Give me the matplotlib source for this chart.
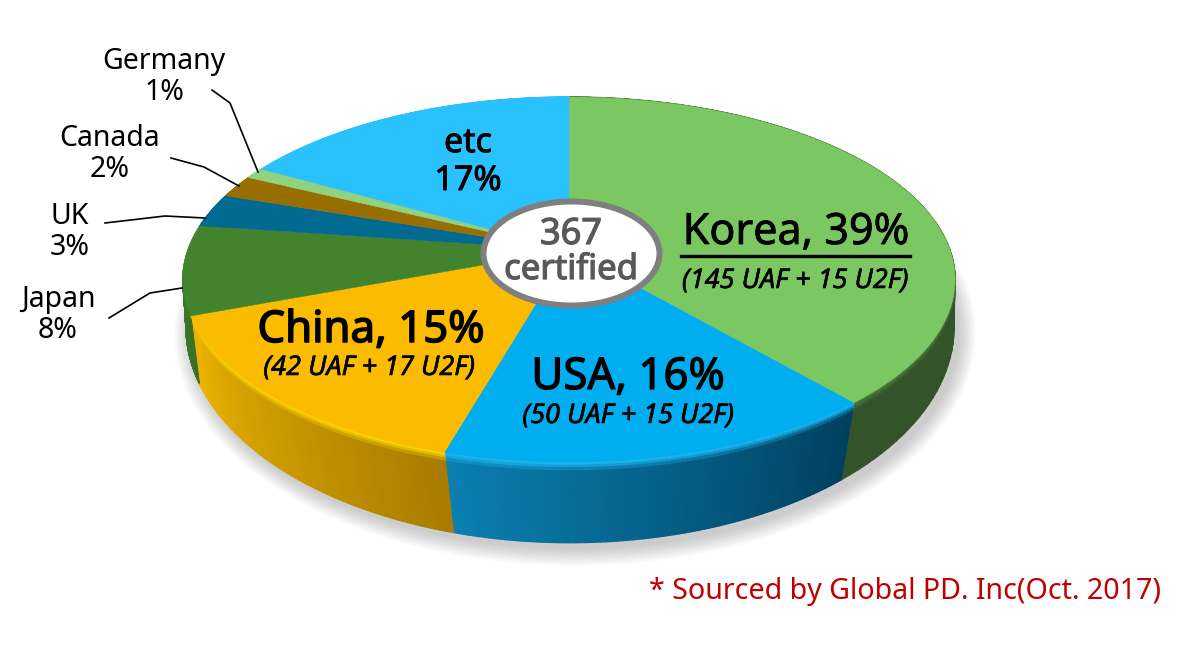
import numpy as np
import matplotlib
matplotlib.use('Agg')
import matplotlib.pyplot as plt
import matplotlib.patheffects as pe
from matplotlib.collections import PolyCollection
from matplotlib.colors import to_rgb
from matplotlib.patches import Ellipse, Polygon

countries = ['Korea', 'USA', 'China', 'Japan', 'UK', 'Canada', 'Germany', 'etc']
shares = [39, 16, 15, 8, 3, 2, 1, 17]
top_colors = ['#7BC862', '#00AEEF', '#FBBC00', '#43832D', '#006A90', '#996E00', '#90D27E', '#29C2FF']
# side colour at the start and end of each slice (start = clockwise first)
side_start = ['#33532A', '#00405F', '#A87C00', '#3A7028', '#006A90', '#996E00', '#90D27E', '#29C2FF']
side_end = ['#33532A', '#0A7FB0', '#EDB400', '#3F7A2A', '#006A90', '#996E00', '#90D27E', '#29C2FF']
rim_colors = ['#4C7A3C', '#1CB8F5', '#FFD800', '#50A035', '#006A90', '#996E00', '#90D27E', '#29C2FF']

big_labels = [('Korea, 39%', 796, 233, 31, 0.55), ('USA, 16%', 628, 378, 31.5, 0.9), ('China, 15%', 371, 331, 31.5, 1.1)]
sub_labels = [('(145 UAF + 15 U2F)', 795, 281), ('(50 UAF + 15 U2F)', 628, 416), ('(42 UAF + 17 U2F)', 369, 368)]
small_labels = [('Germany\n1%', 164, 77), ('Canada\n2%', 110, 154), ('UK\n3%', 70, 232), ('Japan\n8%', 58, 315)]
leaders = [[(212, 90), (230, 103), (258, 172)],
           [(171, 158), (204, 167), (239, 186)],
           [(105, 223), (165, 216), (205, 218)],
           [(109, 318), (150, 293), (182, 288)]]

plt.rcParams['font.family'] = ['Noto Sans', 'DejaVu Sans']


# perspective projection of the pie disc, angle clockwise from the back
def project(theta, cx, cy, a, b, k):
    u = np.sin(theta)
    v = np.cos(theta)
    w = 1 + k * v
    return cx + a * u / w, cy - b * v / w


def top_rim(theta):
    return project(theta, 569, 250, 381, 177.8, 0.162)


def bottom_rim(theta):
    return project(theta, 570, 306, 382, 213, 0.1)


def mix(c1, c2, t):
    c1 = np.array(to_rgb(c1))
    c2 = np.array(to_rgb(c2))
    return c1 * (1 - t) + c2 * t


def heavy(w, color='black'):
    return [pe.withStroke(linewidth=w, foreground=color)]


fig = plt.figure(figsize=(11.82, 6.67), dpi=100)
ax = fig.add_axes([0, 0, 1, 1])
ax.set_xlim(0, 1182)
ax.set_ylim(667, 0)
ax.axis('off')

fractions = np.array(shares) / sum(shares)
edges = np.concatenate([[0], np.cumsum(fractions)]) * 2 * np.pi

# soft shadow under the disc
th = np.linspace(0, 2 * np.pi, 300)
bx, by = bottom_rim(th)
for grow in np.linspace(16, 0, 14):
    sx = 570 + 5 + (bx - 570) * (1 + grow / 370)
    sy = 330 + 6 + (by - 330) * (1 + grow / 200)
    ax.add_patch(Polygon(np.c_[sx, sy], fc='#707070', ec='none', alpha=0.026, zorder=1))

# side walls: thin quads with a colour ramp and a bevel band at the top
levels = [0, 0.02, 0.04, 0.07, 0.11, 1]
bevel = [0.0, 0.1, 0.35, 0.7, 1.0]
for i in range(len(shares)):
    th = np.linspace(edges[i], edges[i + 1], 80)
    tx, ty = top_rim(th)
    lx, ly = bottom_rim(th)
    quads = []
    cols = []
    for j in range(len(th) - 1):
        ramp = j / (len(th) - 2)
        wall = mix(side_start[i], side_end[i], ramp)
        for m in range(len(levels) - 1):
            a0, a1 = levels[m], levels[m + 1]
            quads.append([(tx[j] + (lx[j] - tx[j]) * a0, ty[j] + (ly[j] - ty[j]) * a0),
                          (tx[j + 1] + (lx[j + 1] - tx[j + 1]) * a0, ty[j + 1] + (ly[j + 1] - ty[j + 1]) * a0),
                          (tx[j + 1] + (lx[j + 1] - tx[j + 1]) * a1, ty[j + 1] + (ly[j + 1] - ty[j + 1]) * a1),
                          (tx[j] + (lx[j] - tx[j]) * a1, ty[j] + (ly[j] - ty[j]) * a1)])
            cols.append(mix(rim_colors[i], wall, bevel[m]))
    ax.add_collection(PolyCollection(quads, facecolors=cols, edgecolors=cols, linewidths=1.0, zorder=2))

# top surface
apex = (569, 250)
for i in range(len(shares)):
    th = np.linspace(edges[i], edges[i + 1], 120)
    tx, ty = top_rim(th)
    pts = np.vstack([[apex], np.c_[tx, ty]])
    ax.add_patch(Polygon(pts, fc=top_colors[i], ec=top_colors[i], lw=0.3, zorder=3))

# centre badge
ax.add_patch(Ellipse((571.5, 253.5), 176, 104, fc='white', ec='#7F7F7F', lw=4.3, zorder=4))
ax.text(571, 235, '367', ha='center', va='center', fontsize=26, color='#595959', zorder=5,
        path_effects=heavy(0.9, '#595959'))
ax.text(571, 270, 'certified', ha='center', va='center', fontsize=25, color='#595959', zorder=5,
        path_effects=heavy(0.9, '#595959'))

for txt, x, y, fs, w in big_labels:
    ax.text(x, y, txt, ha='center', va='center', fontsize=fs, color='black', zorder=5, path_effects=heavy(w))
for txt, x, y in sub_labels:
    ax.text(x, y, txt, ha='center', va='center', fontsize=19.5, color='black', style='italic', zorder=5,
            path_effects=heavy(0.4))
ax.plot([681, 910], [256, 256], color='black', lw=2.4, zorder=5)
ax.text(468, 162, 'etc\n17%', ha='center', va='center', fontsize=24.5, color='black', linespacing=1.15, zorder=5,
        path_effects=heavy(0.7))

for txt, x, y in small_labels:
    ax.text(x, y, txt, ha='center', va='center', fontsize=20.5, color='black', linespacing=1.08, zorder=5)
for pts in leaders:
    xs, ys = zip(*pts)
    ax.plot(xs, ys, color='black', lw=1.2, zorder=5)

ax.text(1161, 592, '* Sourced by Global PD. Inc(Oct. 2017)', ha='right', va='center', fontsize=20.6, color='#C00000', zorder=5)

plt.savefig('out.png', dpi=100)
